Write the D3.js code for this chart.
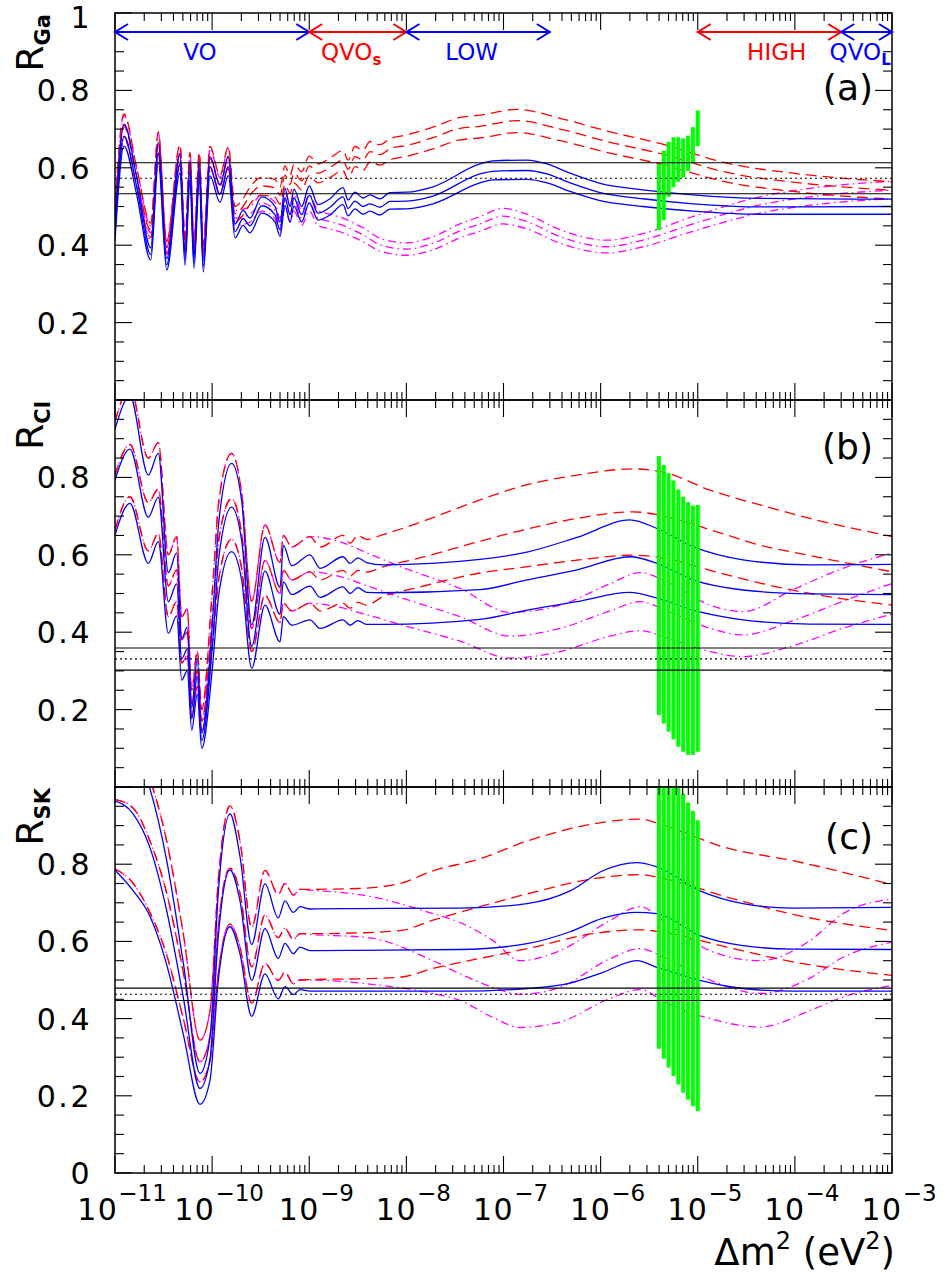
<!DOCTYPE html>
<html><head><meta charset="utf-8">
<script src="https://cdn.jsdelivr.net/npm/d3@7/dist/d3.min.js"></script>
<style>body{margin:0;background:#fff}text{font-family:"DejaVu Sans",sans-serif}</style>
</head><body><svg id="chart" width="943" height="1277"></svg>
<script>
// ---------------- DATA (x values are log10 of Δm² in eV²) ----------------
const xTickExps = [-11,-10,-9,-8,-7,-6,-5,-4,-3];
const gaTicks = [0.2,0.4,0.6,0.8,1];
const clTicks = [0.2,0.4,0.6,0.8];
const skTicks = [0,0.2,0.4,0.6,0.8];
const gaBand = [0.533,0.573,0.613];
const clBand = [0.302,0.331,0.359];
const skBand = [0.447,0.463,0.479];

const regionNames = ['VO','QVO','LOW','HIGH','QVO'];
const regionSubs  = ['','s','','','L'];
const regionFrom  = [1e-11,1e-9,1e-8,1e-5,3e-4];
const regionTo    = [1e-9,1e-8,3e-7,3e-4,1e-3];
const regionLabelAt = [7.5e-11,2.7e-9,4.7e-8,6.5e-5,4.7e-4];
const regionColor = ['#0000ff','#ff0000','#0000ff','#ff0000','#0000ff'];

const barU = [-5.4,-5.35,-5.3,-5.25,-5.2,-5.15,-5.1,-5.05,-5.0];
const gaBarLow  = [0.439,0.465,0.525,0.55,0.564,0.575,0.592,0.611,0.656];
const gaBarHigh = [0.610,0.644,0.667,0.679,0.679,0.676,0.683,0.705,0.748];
const clBarLow  = [0.186,0.164,0.143,0.123,0.104,0.091,0.083,0.083,0.091];
const clBarHigh = [0.855,0.832,0.811,0.792,0.769,0.750,0.736,0.727,0.729];
const skBarLow  = [0.322,0.296,0.273,0.251,0.229,0.208,0.19,0.173,0.16];
const skBarHigh = [1.0,1.0,1.0,1.0,1.0,0.983,0.96,0.938,0.914];

// Panel (a) Ga
const gaBlueU = [-11,-10.907,-10.777,-10.632,-10.554,-10.468,-10.331,-10.279,-10.228,-10.187,-10.132,-10.091,-10.022,-9.919,-9.833,-9.764,-9.682,-9.61,-9.49,-9.353,-9.301,-9.25,-9.198,-9.157,-9.078,-9.0,-8.91,-8.786,-8.652,-8.601,-8.529,-8.447,-8.375,-8.272,-8.169,-7.994,-7.726,-7.242,-7.108,-6.758,-6.552,-6.315,-6.006,-5.564,-5.049,-4.359,-3.0];
const gaBlue1 = [0.448,0.713,0.577,0.393,0.667,0.365,0.637,0.378,0.616,0.370,0.616,0.360,0.629,0.555,0.630,0.455,0.490,0.470,0.525,0.500,0.460,0.547,0.500,0.545,0.500,0.553,0.505,0.520,0.549,0.517,0.537,0.522,0.530,0.520,0.536,0.537,0.551,0.610,0.618,0.620,0.610,0.586,0.560,0.543,0.530,0.521,0.519];
const gaBlue2 = [0.429,0.682,0.552,0.376,0.638,0.349,0.610,0.362,0.590,0.354,0.590,0.345,0.602,0.531,0.603,0.435,0.469,0.450,0.502,0.479,0.440,0.523,0.479,0.522,0.479,0.529,0.483,0.498,0.525,0.495,0.514,0.500,0.507,0.498,0.513,0.514,0.527,0.584,0.591,0.593,0.584,0.561,0.536,0.520,0.507,0.499,0.500];
const gaBlue3 = [0.412,0.656,0.531,0.362,0.614,0.336,0.586,0.348,0.567,0.340,0.567,0.331,0.579,0.511,0.580,0.419,0.451,0.432,0.483,0.460,0.423,0.503,0.460,0.501,0.460,0.509,0.465,0.478,0.505,0.476,0.494,0.480,0.488,0.478,0.493,0.494,0.507,0.561,0.569,0.570,0.561,0.539,0.515,0.500,0.488,0.480,0.480];
const gaRedU = [-11,-10.907,-10.777,-10.632,-10.554,-10.468,-10.331,-10.279,-10.228,-10.187,-10.132,-10.091,-10.022,-9.919,-9.833,-9.764,-9.682,-9.61,-9.49,-9.353,-9.301,-9.25,-9.198,-9.157,-9.078,-9.0,-8.91,-8.786,-8.652,-8.601,-8.529,-8.447,-8.375,-8.272,-8.169,-7.994,-7.726,-7.448,-7.242,-6.861,-6.418,-5.904,-5.389,-4.699,-4.019,-3.0];
const gaRed1 = [0.50,0.739,0.60,0.457,0.693,0.41,0.66,0.42,0.64,0.41,0.64,0.40,0.655,0.58,0.655,0.50,0.52,0.55,0.575,0.57,0.55,0.605,0.58,0.61,0.59,0.63,0.61,0.625,0.645,0.62,0.655,0.645,0.668,0.66,0.675,0.685,0.705,0.73,0.736,0.751,0.728,0.693,0.663,0.612,0.586,0.564];
const gaRed2 = [0.481,0.710,0.577,0.439,0.666,0.394,0.634,0.404,0.615,0.394,0.615,0.384,0.629,0.557,0.629,0.481,0.500,0.529,0.553,0.548,0.529,0.581,0.557,0.586,0.567,0.605,0.586,0.601,0.620,0.596,0.629,0.620,0.642,0.634,0.649,0.658,0.678,0.702,0.707,0.722,0.700,0.666,0.637,0.588,0.563,0.542];
const gaRed3 = [0.460,0.680,0.552,0.420,0.638,0.377,0.607,0.386,0.589,0.377,0.589,0.368,0.603,0.534,0.603,0.460,0.478,0.506,0.529,0.524,0.506,0.557,0.534,0.561,0.543,0.580,0.561,0.575,0.593,0.570,0.603,0.593,0.615,0.607,0.621,0.630,0.649,0.672,0.677,0.691,0.670,0.638,0.610,0.563,0.539,0.519];
const gaMagU = [-11,-10.907,-10.777,-10.632,-10.554,-10.468,-10.331,-10.279,-10.228,-10.187,-10.132,-10.091,-10.022,-9.919,-9.833,-9.764,-9.61,-9.49,-9.353,-9.301,-9.25,-9.198,-9.157,-9.078,-9.0,-8.91,-8.786,-8.652,-8.529,-8.447,-8.272,-8.0,-7.726,-7.448,-7.242,-7.005,-6.758,-6.418,-5.934,-5.564,-5.049,-4.359,-3.669,-3.0];
const gaMag1 = [0.50,0.735,0.60,0.45,0.69,0.41,0.655,0.42,0.635,0.41,0.635,0.40,0.65,0.575,0.65,0.49,0.50,0.53,0.51,0.47,0.54,0.50,0.53,0.49,0.53,0.49,0.48,0.47,0.455,0.445,0.418,0.406,0.422,0.455,0.474,0.495,0.48,0.44,0.413,0.43,0.474,0.525,0.552,0.565];
const gaMag2 = [0.48,0.706,0.576,0.432,0.662,0.394,0.629,0.403,0.61,0.394,0.61,0.384,0.624,0.552,0.624,0.47,0.48,0.509,0.49,0.451,0.518,0.48,0.509,0.47,0.509,0.47,0.461,0.451,0.437,0.427,0.401,0.39,0.405,0.437,0.455,0.475,0.461,0.422,0.396,0.413,0.455,0.504,0.53,0.542];
const gaMag3 = [0.46,0.676,0.552,0.414,0.635,0.377,0.603,0.386,0.584,0.377,0.584,0.368,0.598,0.529,0.598,0.451,0.46,0.488,0.469,0.432,0.497,0.46,0.488,0.451,0.488,0.451,0.442,0.432,0.419,0.409,0.385,0.374,0.388,0.419,0.436,0.455,0.442,0.405,0.38,0.396,0.436,0.483,0.508,0.52];

// Panel (b) Cl
const clBlueU = [-11,-10.846,-10.657,-10.554,-10.451,-10.365,-10.313,-10.256,-10.21,-10.153,-10.107,-10.0,-9.93,-9.80,-9.696,-9.593,-9.456,-9.301,-9.267,-9.181,-8.992,-8.889,-8.652,-8.58,-8.5,-8.41,-8.241,-7.242,-6.758,-6.243,-5.698,-5.42,-5.049,-4.534,-3.844,-3.0];
const clBlue1 = [0.925,1.01,0.806,0.862,0.554,0.605,0.383,0.413,0.204,0.331,0.139,0.413,0.688,0.836,0.74,0.419,0.645,0.516,0.625,0.572,0.60,0.565,0.595,0.578,0.592,0.58,0.574,0.588,0.607,0.645,0.69,0.668,0.621,0.587,0.574,0.575];
const clBlue2 = [0.793,0.873,0.697,0.749,0.479,0.525,0.331,0.357,0.176,0.286,0.12,0.357,0.595,0.723,0.637,0.363,0.558,0.446,0.53,0.497,0.519,0.49,0.517,0.50,0.515,0.503,0.502,0.51,0.535,0.561,0.595,0.578,0.535,0.509,0.499,0.497];
const clBlue3 = [0.651,0.733,0.578,0.634,0.397,0.442,0.276,0.30,0.147,0.24,0.10,0.30,0.50,0.608,0.535,0.307,0.47,0.375,0.44,0.418,0.432,0.41,0.432,0.418,0.43,0.42,0.42,0.433,0.457,0.479,0.503,0.488,0.457,0.432,0.421,0.42];
const clRedU = [-11,-10.846,-10.657,-10.554,-10.451,-10.365,-10.313,-10.256,-10.21,-10.153,-10.107,-10.0,-9.93,-9.80,-9.696,-9.593,-9.456,-9.301,-9.267,-9.181,-8.992,-8.889,-8.652,-8.58,-8.5,-8.41,-8.241,-7.891,-7.242,-6.83,-6.243,-5.667,-5.317,-4.874,-4.359,-3.844,-3.0];
const clRed1 = [0.945,1.03,0.85,0.89,0.60,0.647,0.44,0.46,0.25,0.35,0.20,0.50,0.74,0.862,0.76,0.48,0.677,0.58,0.65,0.62,0.647,0.62,0.65,0.63,0.65,0.64,0.652,0.681,0.742,0.776,0.806,0.822,0.811,0.767,0.729,0.694,0.647];
const clRed2 = [0.806,0.885,0.735,0.77,0.52,0.561,0.38,0.40,0.215,0.30,0.17,0.43,0.64,0.745,0.655,0.41,0.585,0.50,0.56,0.535,0.556,0.535,0.56,0.545,0.56,0.555,0.569,0.59,0.635,0.662,0.694,0.711,0.698,0.665,0.625,0.598,0.556];
const clRed3 = [0.665,0.75,0.61,0.655,0.44,0.479,0.32,0.34,0.18,0.26,0.145,0.36,0.54,0.64,0.565,0.35,0.495,0.425,0.475,0.455,0.475,0.455,0.475,0.462,0.477,0.47,0.492,0.515,0.553,0.567,0.586,0.599,0.59,0.56,0.527,0.50,0.47];
const clMagU = [-11,-10.846,-10.657,-10.554,-10.451,-10.365,-10.313,-10.256,-10.21,-10.153,-10.107,-10.0,-9.93,-9.80,-9.696,-9.593,-9.456,-9.301,-9.267,-9.181,-8.992,-8.7,-8.405,-8.066,-7.448,-6.933,-6.418,-5.904,-5.595,-5.317,-4.874,-4.534,-4.019,-3.504,-3.0];
const clMag1 = [0.945,1.03,0.85,0.89,0.60,0.647,0.44,0.46,0.25,0.35,0.20,0.50,0.74,0.862,0.76,0.48,0.677,0.58,0.65,0.62,0.647,0.635,0.605,0.57,0.513,0.451,0.47,0.525,0.554,0.53,0.47,0.453,0.51,0.565,0.605];
const clMag2 = [0.806,0.885,0.735,0.77,0.52,0.561,0.38,0.40,0.215,0.30,0.17,0.43,0.64,0.745,0.655,0.41,0.585,0.50,0.56,0.535,0.556,0.545,0.52,0.49,0.44,0.39,0.41,0.455,0.479,0.455,0.41,0.393,0.43,0.48,0.526];
const clMag3 = [0.665,0.75,0.61,0.655,0.44,0.479,0.32,0.34,0.18,0.26,0.145,0.36,0.54,0.64,0.565,0.35,0.495,0.425,0.475,0.455,0.475,0.465,0.445,0.42,0.377,0.333,0.35,0.39,0.404,0.385,0.35,0.337,0.365,0.41,0.447];

// Panel (c) SK
const skBlueU = [-11,-10.812,-10.64,-10.468,-10.297,-10.125,-10.022,-9.936,-9.816,-9.713,-9.593,-9.456,-9.319,-9.25,-9.164,-9.095,-8.992,-8.5,-7.448,-6.758,-6.315,-5.976,-5.626,-5.42,-4.977,-4.534,-4.019,-3.0];
const skBlue1 = [1.14,1.10,0.995,0.81,0.545,0.258,0.35,0.728,0.93,0.82,0.592,0.749,0.661,0.705,0.675,0.690,0.684,0.685,0.686,0.698,0.731,0.783,0.804,0.793,0.731,0.698,0.686,0.688];
const skBlue2 = [0.964,0.930,0.843,0.68,0.455,0.219,0.295,0.615,0.785,0.705,0.499,0.633,0.556,0.595,0.568,0.585,0.576,0.577,0.579,0.594,0.625,0.66,0.675,0.672,0.615,0.589,0.58,0.579];
const skBlue3 = [0.785,0.731,0.665,0.54,0.36,0.178,0.24,0.50,0.638,0.568,0.406,0.516,0.451,0.483,0.462,0.475,0.471,0.471,0.471,0.478,0.492,0.52,0.55,0.533,0.499,0.478,0.471,0.471];
const skRedU = [-11,-10.812,-10.64,-10.468,-10.297,-10.125,-10.022,-9.936,-9.816,-9.713,-9.593,-9.456,-9.319,-9.25,-9.164,-9.095,-8.992,-8.5,-8.066,-7.726,-7.242,-6.758,-6.079,-5.595,-5.389,-4.699,-4.019,-3.0];
const skRed1 = [1.15,1.12,1.02,0.86,0.62,0.344,0.42,0.76,0.951,0.86,0.637,0.784,0.722,0.75,0.72,0.735,0.735,0.737,0.75,0.783,0.814,0.86,0.904,0.917,0.904,0.842,0.809,0.747];
const skRed2 = [0.968,0.945,0.86,0.725,0.52,0.288,0.355,0.64,0.79,0.725,0.534,0.668,0.61,0.634,0.605,0.62,0.62,0.622,0.628,0.655,0.69,0.723,0.762,0.773,0.765,0.715,0.67,0.628];
const skRed3 = [0.788,0.75,0.675,0.565,0.40,0.236,0.29,0.52,0.645,0.585,0.44,0.543,0.499,0.52,0.49,0.50,0.501,0.503,0.507,0.53,0.556,0.581,0.62,0.63,0.625,0.585,0.547,0.512];
const skMagU = [-11,-10.812,-10.64,-10.468,-10.297,-10.125,-10.022,-9.936,-9.816,-9.713,-9.593,-9.456,-9.319,-9.25,-9.164,-9.095,-8.992,-8.405,-7.726,-7.448,-7.108,-6.83,-6.418,-5.904,-5.595,-5.317,-4.874,-4.359,-3.844,-3.504,-3.0];
const skMag1 = [1.15,1.12,1.02,0.86,0.62,0.344,0.42,0.76,0.951,0.86,0.637,0.784,0.722,0.75,0.72,0.735,0.733,0.718,0.672,0.649,0.602,0.55,0.576,0.654,0.69,0.646,0.576,0.55,0.602,0.672,0.71];
const skMag2 = [0.968,0.945,0.86,0.725,0.52,0.288,0.355,0.64,0.79,0.725,0.534,0.668,0.61,0.634,0.605,0.62,0.618,0.61,0.55,0.516,0.481,0.463,0.481,0.555,0.581,0.555,0.50,0.465,0.505,0.559,0.598];
const skMag3 = [0.788,0.75,0.675,0.565,0.40,0.236,0.29,0.52,0.645,0.585,0.44,0.543,0.499,0.52,0.49,0.50,0.50,0.49,0.465,0.447,0.403,0.377,0.391,0.452,0.475,0.44,0.40,0.378,0.421,0.456,0.486];

// ---------------- LAYOUT ----------------
const L = 115, R = 892;
const svg = d3.select('#chart');
const x = d3.scaleLog().domain([1e-11,1e-3]).range([L,R]);
const panels = [
  {top:13, bottom:400, sub:'Ga', tag:'(a)', tagY:100, ticks:gaTicks, band:gaBand, low:gaBarLow, high:gaBarHigh,
   blue:[[gaBlueU,gaBlue1],[gaBlueU,gaBlue2],[gaBlueU,gaBlue3]], red:[[gaRedU,gaRed1],[gaRedU,gaRed2],[gaRedU,gaRed3]], mag:[[gaMagU,gaMag1],[gaMagU,gaMag2],[gaMagU,gaMag3]]},
  {top:400, bottom:787, sub:'Cl', tag:'(b)', tagY:459, ticks:clTicks, band:clBand, low:clBarLow, high:clBarHigh,
   blue:[[clBlueU,clBlue1],[clBlueU,clBlue2],[clBlueU,clBlue3]], red:[[clRedU,clRed1],[clRedU,clRed2],[clRedU,clRed3]], mag:[[clMagU,clMag1],[clMagU,clMag2],[clMagU,clMag3]]},
  {top:787, bottom:1173, sub:'SK', tag:'(c)', tagY:849, ticks:skTicks, band:skBand, low:skBarLow, high:skBarHigh,
   blue:[[skBlueU,skBlue1],[skBlueU,skBlue2],[skBlueU,skBlue3]], red:[[skRedU,skRed1],[skRedU,skRed2],[skRedU,skRed3]], mag:[[skMagU,skMag1],[skMagU,skMag2],[skMagU,skMag3]]}
];
const defs = svg.append('defs');
const fmt = v => v===0?'0':(v===1?'1':v.toFixed(1));

panels.forEach((p,i)=>{
  const y = d3.scaleLinear().domain([0,1]).range([p.bottom,p.top]);
  const g = svg.append('g');
  defs.append('clipPath').attr('id','clip'+i).append('rect')
    .attr('x',L).attr('y',p.top).attr('width',R-L).attr('height',p.bottom-p.top);
  const plot = g.append('g').attr('clip-path',`url(#clip${i})`);
  const line = d3.line().x(d=>x(Math.pow(10,d[0]))).y(d=>y(d[1])).curve(d3.curveMonotoneX);
  const draw = (series,color,dash)=>series.forEach(([u,v])=>{
    plot.append('path').attr('d',line(d3.zip(u,v))).attr('fill','none')
      .attr('stroke',color).attr('stroke-width',1.3).attr('stroke-dasharray',dash);
  });
  draw(p.mag,'#ff00ff','8,4,1.5,4');
  draw(p.red,'#ff0000','11,6');
  draw(p.blue,'#0000ff',null);
  // green bars
  barU.forEach((u,k)=>{
    const xc = x(Math.pow(10,u));
    plot.append('rect').attr('x',xc-2).attr('width',4)
      .attr('y',y(p.high[k])).attr('height',y(p.low[k])-y(p.high[k])).attr('fill','#00ff00');
  });
  // experimental band
  p.band.forEach((b,k)=>{
    g.append('line').attr('x1',L).attr('x2',R).attr('y1',y(b)).attr('y2',y(b))
      .attr('stroke','#000').attr('stroke-width',1.1).attr('stroke-dasharray',k===1?'2,3':null);
  });
  // frame
  g.append('rect').attr('x',L).attr('y',p.top).attr('width',R-L).attr('height',p.bottom-p.top)
    .attr('fill','none').attr('stroke','#000').attr('stroke-width',1.5);
  // x ticks
  x.ticks(10).forEach(t=>{
    const e = Math.log10(t), major = Math.abs(e-Math.round(e))<1e-6, len = major?17:8, xx = x(t);
    g.append('line').attr('x1',xx).attr('x2',xx).attr('y1',p.top).attr('y2',p.top+len).attr('stroke','#000').attr('stroke-width',1.1);
    g.append('line').attr('x1',xx).attr('x2',xx).attr('y1',p.bottom).attr('y2',p.bottom-len).attr('stroke','#000').attr('stroke-width',1.1);
  });
  // y ticks
  y.ticks(20).forEach(t=>{
    const major = Math.abs(t/0.2-Math.round(t/0.2))<1e-6, len = major?17:9, yy = y(t);
    g.append('line').attr('x1',L).attr('x2',L+len).attr('y1',yy).attr('y2',yy).attr('stroke','#000').attr('stroke-width',1.1);
    g.append('line').attr('x1',R).attr('x2',R-len).attr('y1',yy).attr('y2',yy).attr('stroke','#000').attr('stroke-width',1.1);
  });
  // y tick labels
  p.ticks.forEach(t=>{
    const yy = Math.max(y(t)+11, 28);
    g.append('text').attr('x',92).attr('y',yy).attr('text-anchor','end')
      .attr('font-size',30).attr('letter-spacing',2.5).text(fmt(t));
  });
  // y title
  const tt = g.append('text').attr('transform',`translate(43,${p.top+1}) rotate(-90)`).attr('text-anchor','end');
  tt.append('tspan').attr('font-size',38).text('R');
  tt.append('tspan').attr('font-size',21).attr('font-weight','bold').attr('dy',7).text(p.sub);
  // panel tag
  g.append('text').attr('x',873).attr('y',p.tagY).attr('text-anchor','end').attr('font-size',36).text(p.tag);
});

// region arrows on panel (a)
const ay = 32;
regionNames.forEach((n,k)=>{
  const x1 = x(regionFrom[k]), x2 = x(regionTo[k]), c = regionColor[k];
  svg.append('line').attr('x1',x1).attr('x2',x2).attr('y1',ay).attr('y2',ay).attr('stroke',c).attr('stroke-width',2);
  svg.append('path').attr('d',`M${x1+13},${ay-8}L${x1},${ay}L${x1+13},${ay+8}`).attr('fill','none').attr('stroke',c).attr('stroke-width',2);
  svg.append('path').attr('d',`M${x2-13},${ay-8}L${x2},${ay}L${x2-13},${ay+8}`).attr('fill','none').attr('stroke',c).attr('stroke-width',2);
  const t = svg.append('text').attr('x',x(regionLabelAt[k])).attr('y',60).attr('text-anchor','middle').attr('fill',c).attr('font-size',23);
  t.append('tspan').text(n);
  if (regionSubs[k]) t.append('tspan').attr('font-size',15).attr('font-weight','bold').attr('dy',5).text(regionSubs[k]);
});

// x tick labels
xTickExps.forEach(e=>{
  const t = svg.append('text').attr('x',x(Math.pow(10,e))+7).attr('y',1220).attr('text-anchor','middle');
  t.append('tspan').attr('font-size',30).attr('letter-spacing',1.5).text('10');
  t.append('tspan').attr('font-size',23).attr('dy',-19).text('\u2212'+Math.abs(e));
});
// x axis title
const xt = svg.append('text').attr('x',895).attr('y',1265).attr('text-anchor','end').attr('font-size',37);
xt.append('tspan').text('\u0394m');
xt.append('tspan').attr('font-size',24).attr('dy',-16).text('2');
xt.append('tspan').attr('dy',16).text(' (eV');
xt.append('tspan').attr('font-size',24).attr('dy',-16).text('2');
xt.append('tspan').attr('dy',16).text(')');
</script></body></html>
